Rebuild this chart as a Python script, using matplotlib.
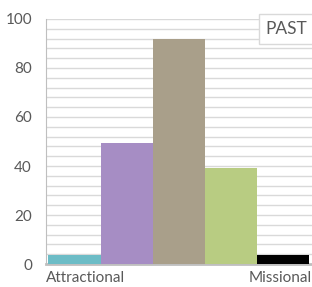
import numpy as np
import matplotlib.pyplot as plt

# Данные
categories = ["Attractional", "", "", "", "Missional"]
values = [3.7, 49.5, 92, 39, 3.7]
colors = ["#6CBCC6", "#A68DC4", "#A99F8A", "#B8CC82", "#000000"]
legend_label = "PAST"

plt.rcParams['font.family'] = ['Lato', 'DejaVu Sans']

fig = plt.figure(figsize=(3.12, 2.87), dpi=100)
ax = fig.add_axes([0.147, 0.080, 0.853, 0.854])

x = np.arange(len(values))
ax.bar(x, values, width=1.0, color=colors, zorder=3)

ax.set_xlim(-0.52, 4.56)
ax.set_ylim(0, 100)
ax.set_yticks(np.arange(0, 101, 20))
ax.set_yticks(np.arange(0, 101, 4), minor=True)
ax.tick_params(axis='y', which='both', length=0, labelsize=11, labelcolor="#595959", pad=10)
ax.grid(axis='y', which='both', color="#D9D9D9", linewidth=1.0, zorder=0)

ax.set_xticks([-0.55, 4.56])
ax.set_xticklabels([categories[0], categories[-1]])
ax.get_xticklabels()[0].set_ha('left')
ax.get_xticklabels()[1].set_ha('right')
ax.tick_params(axis='x', length=0, labelsize=11, labelcolor="#595959", pad=5)

for s in ["top", "right"]:
    ax.spines[s].set_visible(False)
ax.spines["left"].set_color("#BFBFBF")
ax.spines["bottom"].set_color("#BFBFBF")
ax.spines["bottom"].set_linewidth(2)

ax.text(0.983, 0.99, legend_label, transform=ax.transAxes, ha='right', va='top',
        fontsize=12.5, color="#595959", zorder=5,
        bbox=dict(facecolor="white", edgecolor="#D9D9D9", boxstyle="square,pad=0.4"))

fig.savefig("out.png", dpi=100)
